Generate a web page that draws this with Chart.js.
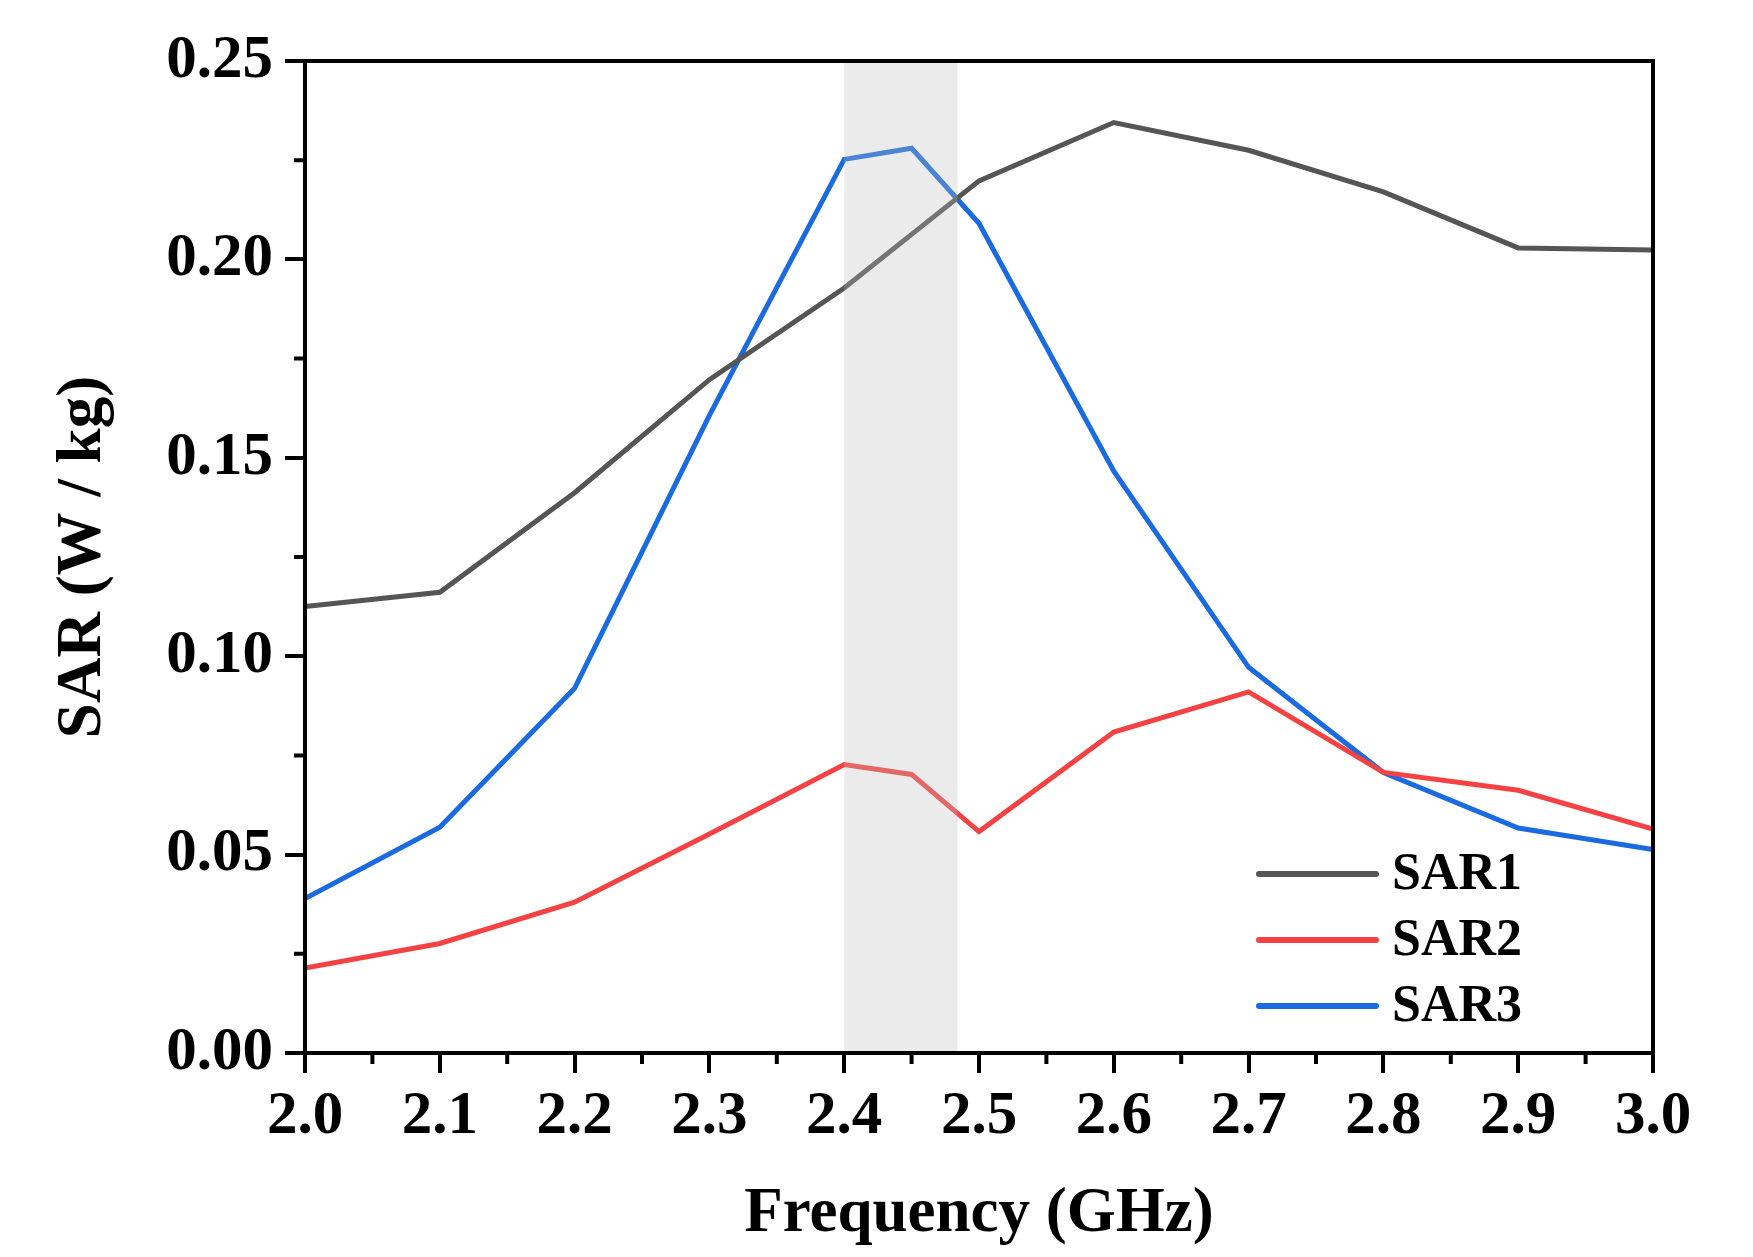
<!DOCTYPE html>
<html>
<head>
    <title>SAR vs frequency</title>
    <script src="https://cdn.jsdelivr.net/npm/chart.js@4.4.1/dist/chart.umd.min.js"></script>
    <style>
        body { margin: 0; background: white; }
        #wrap { width: 1753px; height: 1257px; }
    </style>
</head>
<body>
    <div id="wrap"><canvas id="sarChart"></canvas></div>
    <script>
        // frequency points (GHz)
        const freq = [2.0, 2.1, 2.2, 2.3, 2.4, 2.45, 2.5, 2.6, 2.7, 2.8, 2.9, 3.0]
        const sar1 = [0.1125, 0.1161, 0.1412, 0.1697, 0.1928, 0.2063, 0.2198, 0.2345, 0.2275, 0.2170, 0.2029, 0.2024]
        const sar2 = [0.0214, 0.0276, 0.0380, 0.0552, 0.0727, 0.0702, 0.0558, 0.0809, 0.0910, 0.0707, 0.0662, 0.0564]
        const sar3 = [0.0389, 0.0569, 0.0919, 0.1607, 0.2252, 0.2280, 0.2091, 0.1466, 0.0972, 0.0707, 0.0567, 0.0513]
        const seriesNames = ['SAR1', 'SAR2', 'SAR3']
        const seriesColors = ['#555555', '#f44242', '#1a6ae0']
        const band = [2.4, 2.484]   // shaded ISM band
        const font = 'Liberation Serif'

        const toPts = arr => arr.map((v, i) => ({ x: freq[i], y: v }))

        // shaded band, minor ticks, frame and legend
        const extras = {
            id: 'extras',
            afterDatasetsDraw(chart) {
                const c = chart.ctx, a = chart.chartArea
                const xs = chart.scales.x, ys = chart.scales.y
                c.save()
                c.fillStyle = 'rgba(190,190,190,0.3)'
                const x0 = xs.getPixelForValue(band[0]), x1 = xs.getPixelForValue(band[1])
                c.fillRect(x0, a.top, x1 - x0, a.bottom - a.top)

                c.strokeStyle = 'black'
                c.lineWidth = 4
                c.strokeRect(a.left, a.top, a.right - a.left, a.bottom - a.top)

                c.beginPath()
                for (let v = 0.025; v < 0.25; v += 0.05) {
                    const y = ys.getPixelForValue(v)
                    c.moveTo(a.left - 11, y); c.lineTo(a.left, y)
                }
                for (let v = 2.05; v < 3.0; v += 0.1) {
                    const x = xs.getPixelForValue(v)
                    c.moveTo(x, a.bottom); c.lineTo(x, a.bottom + 11)
                }
                c.stroke()

                // legend, bottom right inside plot
                c.font = 'bold 52px ' + font
                c.textBaseline = 'middle'
                c.lineCap = 'round'
                chart.data.datasets.forEach((ds, i) => {
                    const y = 874 + i * 66
                    c.strokeStyle = ds.borderColor
                    c.lineWidth = 6
                    c.beginPath()
                    c.moveTo(1259, y); c.lineTo(1376, y)
                    c.stroke()
                    c.fillStyle = 'black'
                    c.fillText(ds.label, 1392, y + 2)
                })
                c.restore()
            }
        }

        new Chart(document.getElementById('sarChart'), {
            type: 'line',
            data: {
                datasets: seriesNames.map((n, i) => ({
                    label: n,
                    data: toPts([sar1, sar2, sar3][i]),
                    borderColor: seriesColors[i],
                    borderWidth: 5,
                    pointRadius: 0,
                    tension: 0,
                }))
            },
            options: {
                responsive: true,
                maintainAspectRatio: false,
                animation: false,
                layout: { padding: { top: 61, right: 100, left: 0, bottom: 0 } },
                plugins: { legend: { display: false }, tooltip: { enabled: false } },
                scales: {
                    x: {
                        type: 'linear',
                        min: 2.0, max: 3.0,
                        afterFit: s => { s.height = 204 },
                        ticks: {
                            stepSize: 0.1,
                            padding: 8,
                            color: 'black',
                            font: { family: font, weight: 'bold', size: 61 },
                            callback: v => v.toFixed(1),
                        },
                        grid: { drawOnChartArea: false, color: 'black', lineWidth: 4, tickLength: 20 },
                        border: { color: 'black', width: 4 },
                        title: {
                            display: true, text: 'Frequency (GHz)', color: 'black',
                            font: { family: font, weight: 'bold', size: 63 },
                            padding: { top: 14 },
                        },
                    },
                    y: {
                        min: 0, max: 0.25,
                        afterFit: s => { s.width = 305 },
                        ticks: {
                            stepSize: 0.05,
                            padding: 12,
                            color: 'black',
                            font: { family: font, weight: 'bold', size: 61 },
                            callback: v => v.toFixed(2),
                        },
                        grid: { drawOnChartArea: false, color: 'black', lineWidth: 4, tickLength: 20 },
                        border: { color: 'black', width: 4 },
                        title: {
                            display: true, text: 'SAR (W / kg)', color: 'black',
                            font: { family: font, weight: 'bold', size: 63 },
                            padding: { top: 46, bottom: 0 },
                        },
                    },
                },
            },
            plugins: [extras],
        })
    </script>
</body>
</html>
